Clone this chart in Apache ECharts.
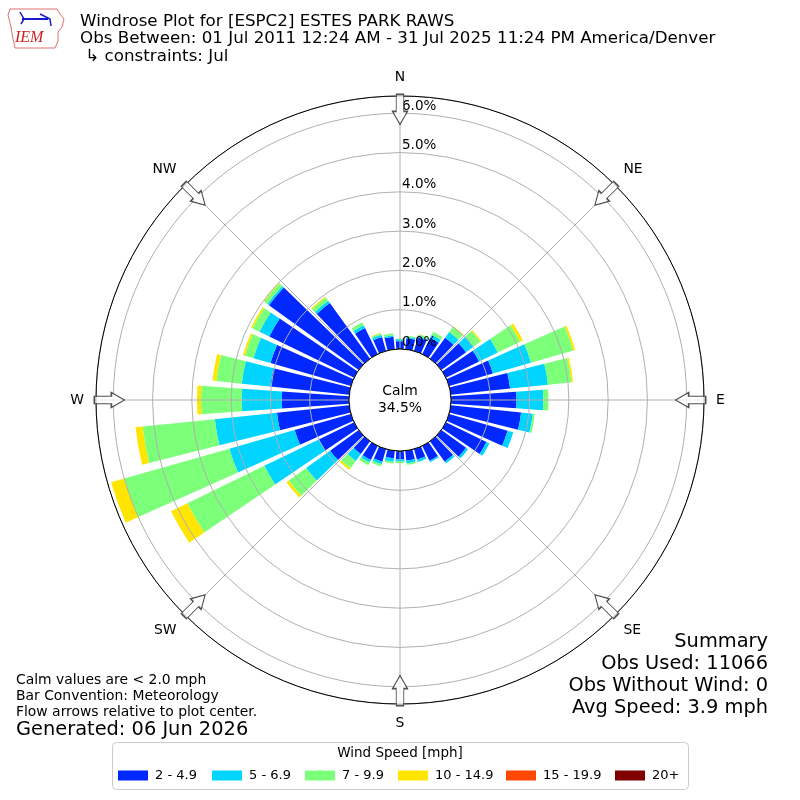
<!DOCTYPE html>
<html>
<head>
<meta charset="utf-8">
<title>Windrose ESPC2</title>
<script src="https://cdn.jsdelivr.net/npm/echarts@6/dist/echarts.min.js"></script>
<style>
  html, body { margin: 0; padding: 0; background: #fff; }
  #main { width: 800px; height: 800px; }
</style>
</head>
<body>
<div id="main"></div>
<script>
// wind direction bins (degrees, direction wind blows from)
const directions = [0, 10, 20, 30, 40, 50, 60, 70, 80, 90, 100, 110, 120, 130, 140, 150, 160, 170,
                    180, 190, 200, 210, 220, 230, 240, 250, 260, 270, 280, 290, 300, 310, 320, 330, 340, 350];
const speedBins = ['2 - 4.9', '5 - 6.9', '7 - 9.9', '10 - 14.9', '15 - 19.9', '20+'];
const binColors = ['#0028ff', '#00d4ff', '#7cff79', '#ffe500', '#ff4700', '#800000'];

// percent of observations, per direction
const pct2to5 = [0.20, 0.28, 0.36, 0.46, 0.66, 0.78, 0.94, 1.16, 1.52, 1.67, 1.80, 1.55, 1.15, 0.78, 0.64, 0.42, 0.28, 0.25,
                 0.21, 0.19, 0.33, 0.40, 0.40, 0.90, 1.00, 1.49, 1.85, 1.71, 2.02, 2.13, 2.40, 2.82, 1.75, 0.74, 0.37, 0.32];
const pct5to7 = [0.05, 0.04, 0.04, 0.09, 0.18, 0.24, 0.53, 1.01, 0.97, 0.68, 0.30, 0.15, 0.08, 0.06, 0.06, 0.04, 0.06, 0.07,
                 0.06, 0.09, 0.07, 0.07, 0.22, 0.75, 1.54, 1.73, 1.59, 1.02, 0.73, 0.45, 0.28, 0.05, 0.07, 0.08, 0.06, 0.04];
const pct7to10 = [0.02, 0.03, 0.04, 0.08, 0.16, 0.21, 0.63, 1.12, 0.60, 0.13, 0.05, 0, 0, 0, 0, 0, 0.01, 0.04,
                  0.04, 0.05, 0.06, 0.08, 0.23, 0.55, 2.18, 2.78, 1.85, 1.04, 0.65, 0.23, 0.20, 0.10, 0.10, 0.08, 0.04, 0.05];
const pct10to15 = [0, 0, 0.01, 0, 0.02, 0.03, 0.08, 0.05, 0.04, 0, 0, 0, 0, 0, 0, 0, 0, 0,
                   0, 0, 0, 0, 0.05, 0.07, 0.46, 0.35, 0.18, 0.10, 0.10, 0.05, 0.04, 0.02, 0.03, 0, 0.01, 0];
const pct15to20 = [0, 0, 0, 0, 0, 0, 0, 0, 0, 0, 0, 0, 0, 0, 0, 0, 0, 0,
                   0, 0, 0, 0, 0, 0, 0, 0, 0, 0, 0, 0, 0, 0, 0, 0, 0, 0];
const pct20plus = [0, 0, 0, 0, 0, 0, 0, 0, 0, 0, 0, 0, 0, 0, 0, 0, 0, 0,
                   0, 0, 0, 0, 0, 0, 0, 0, 0, 0, 0, 0, 0, 0, 0, 0, 0, 0];
const binValues = [pct2to5, pct5to7, pct7to10, pct10to15, pct15to20, pct20plus];

const compassAngles = [0, 45, 90, 135, 180, 225, 270, 315];
const compassNames = ['N', 'NE', 'E', 'SE', 'S', 'SW', 'W', 'NW'];
const radiusMax = 6.44;

const titleLines = [
  'Windrose Plot for [ESPC2] ESTES PARK RAWS',
  'Obs Between: 01 Jul 2011 12:24 AM - 31 Jul 2025 11:24 PM America/Denver',
  ' \u21B3 constraints: Jul'
];
const calmText = 'Calm\n34.5%';
const summaryLines = ['Summary', 'Obs Used: 11066', 'Obs Without Wind: 0', 'Avg Speed: 3.9 mph'];
const noteLines = ['Calm values are < 2.0 mph', 'Bar Convention: Meteorology', 'Flow arrows relative to plot center.'];
const generatedText = 'Generated: 06 Jun 2026';
const legendTitle = 'Wind Speed [mph]';

const FONT = 'DejaVu Sans';
const chart = echarts.init(document.getElementById('main'), null, { renderer: 'canvas' });

const graphics = [];
// title block
titleLines.forEach((t, i) => {
  graphics.push({ type: 'text', left: 80, top: 13 + i * 17.5, z: 20,
    style: { text: t, font: '16.7px "DejaVu Sans"', fill: '#000' } });
});
// rough IEM logo
graphics.push({ type: 'polygon', z: 20,
  shape: { points: [[10, 9], [57, 9], [60, 14], [64, 19], [62, 27], [58, 32], [58, 41], [55, 48], [15, 48], [13, 39], [11, 27], [8, 15]] },
  style: { fill: '#fff', stroke: '#e07070', lineWidth: 1 } });
graphics.push({ type: 'polyline', z: 21, shape: { points: [[22, 19], [48, 19]] }, style: { stroke: '#1a1acc', lineWidth: 2 } });
graphics.push({ type: 'polyline', z: 21, shape: { points: [[20, 12], [24, 19], [21, 24]] }, style: { stroke: '#1a1acc', lineWidth: 1.5, fill: null } });
graphics.push({ type: 'polyline', z: 21, shape: { points: [[40, 14], [50, 19], [51, 26]] }, style: { stroke: '#1a1acc', lineWidth: 1.5, fill: null } });
graphics.push({ type: 'text', left: 15, top: 30, z: 21,
  style: { text: 'IEM', font: 'italic 16px "Liberation Serif"', fill: '#cc2020' } });
// bottom left notes
noteLines.forEach((t, i) => {
  graphics.push({ type: 'text', left: 16, top: 673 + i * 16, z: 20,
    style: { text: t, font: '13.9px "DejaVu Sans"', fill: '#000' } });
});
graphics.push({ type: 'text', left: 16, top: 720, z: 20,
  style: { text: generatedText, font: '19.4px "DejaVu Sans"', fill: '#000' } });
// summary, right aligned
summaryLines.forEach((t, i) => {
  graphics.push({ type: 'text', right: 32, top: 632 + i * 22, z: 20,
    style: { text: t, font: '19.4px "DejaVu Sans"', fill: '#000', align: 'right' } });
});
// calm circle
graphics.push({ type: 'circle', z: 50, shape: { cx: 400, cy: 400, r: 51 },
  style: { fill: '#fff', stroke: '#000', lineWidth: 1 } });
graphics.push({ type: 'text', z: 51, x: 400, y: 400,
  style: { text: calmText, font: '13.9px "DejaVu Sans"', fill: '#000', align: 'center', verticalAlign: 'middle', lineHeight: 17 } });
// legend frame and title
graphics.push({ type: 'rect', z: 0, shape: { x: 112.5, y: 742.5, width: 576, height: 47, r: 4 },
  style: { fill: '#fff', stroke: '#cccccc', lineWidth: 1 } });
graphics.push({ type: 'text', z: 20, x: 400, y: 753,
  style: { text: legendTitle, font: '13.5px "DejaVu Sans"', fill: '#000', align: 'center', verticalAlign: 'middle' } });

const series = speedBins.map((name, i) => ({
  name: name,
  type: 'bar',
  coordinateSystem: 'polar',
  polarIndex: 0,
  stack: 'speed',
  data: binValues[i],
  barCategoryGap: '18%',
  itemStyle: { color: binColors[i] },
  silent: true,
  z: 2
}));

// hollow flow arrows at the compass points, pointing to the centre
series.push({
  type: 'scatter',
  coordinateSystem: 'polar',
  polarIndex: 1,
  data: compassAngles.map(a => [6.1, a]),
  symbol: 'path://M3.5,0L10.5,0L10.5,17L14,17L7,30L0,17L3.5,17Z',
  symbolSize: [15, 30],
  symbolRotate: v => -v[1],
  itemStyle: { color: '#fff', borderColor: '#222', borderWidth: 1.2 },
  silent: true,
  z: 30
});

// one legend block per speed bin, laid out like the reference columns
const legendLeft = [118, 212, 305, 398, 506, 615];
const legends = speedBins.map((name, i) => ({
  data: [name],
  left: legendLeft[i], top: 769,
  padding: 0,
  icon: 'rect', itemWidth: 30, itemHeight: 10, itemGap: 0,
  selectedMode: false,
  textStyle: { fontSize: 13, color: '#000', fontFamily: FONT, padding: [0, 0, 0, 2] }
}));

const option = {
  animation: false,
  backgroundColor: '#fff',
  textStyle: { fontFamily: FONT },
  graphic: graphics,
  polar: [
    { center: [400, 400], radius: [51, 304] },
    { center: [400, 400], radius: [51, 304] }
  ],
  angleAxis: [
    {
      polarIndex: 0, type: 'category', data: directions.map(String),
      startAngle: 95, clockwise: true,
      axisLine: { show: false }, axisTick: { show: false }, axisLabel: { show: false },
      splitLine: { show: false }, splitArea: { show: false }
    },
    {
      polarIndex: 1, type: 'value', min: 0, max: 360, interval: 45,
      startAngle: 90, clockwise: true, z: 5,
      axisLine: { show: true, lineStyle: { color: '#000', width: 1 } },
      axisTick: { show: false },
      axisLabel: {
        show: true, margin: 12, fontSize: 13.9, color: '#000', fontFamily: FONT,
        formatter: v => { const k = compassAngles.indexOf(v); return k >= 0 ? compassNames[k] : ''; }
      },
      splitLine: { show: true, lineStyle: { color: '#b0b0b0', width: 1 } }
    }
  ],
  radiusAxis: [
    {
      polarIndex: 0, type: 'value', min: 0, max: radiusMax,
      axisLine: { show: false }, axisTick: { show: false }, axisLabel: { show: false },
      splitLine: { show: false }
    },
    {
      polarIndex: 1, type: 'value', min: 0, max: radiusMax, interval: 1, z: 5,
      axisLine: { show: false }, axisTick: { show: false },
      axisLabel: {
        show: true, fontSize: 13.5, color: '#000', fontFamily: FONT,
        align: 'left', verticalAlign: 'bottom', margin: -2,
        formatter: v => (Math.abs(v - Math.round(v)) < 1e-6 ? v.toFixed(1) + '%' : '')
      },
      splitLine: { show: true, lineStyle: { color: '#b0b0b0', width: 1 } }
    }
  ],
  legend: legends,
  series: series
};

chart.setOption(option);
</script>
</body>
</html>
